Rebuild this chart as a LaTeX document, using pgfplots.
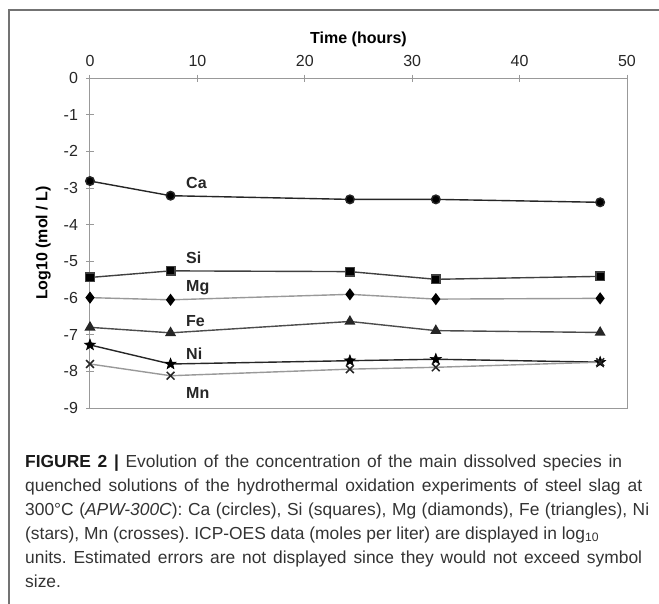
\documentclass[border=0pt]{standalone}
\usepackage{fontspec}
\setmainfont{Liberation Sans}
\usepackage{pgfplots}
\pgfplotsset{compat=1.18}
\pgfdeclareplotmark{fstar}{%
  \pgfpathmoveto{\pgfpointpolar{90}{\pgfplotmarksize}}%
  \pgfpathlineto{\pgfpointpolar{126}{0.42\pgfplotmarksize}}%
  \pgfpathlineto{\pgfpointpolar{162}{\pgfplotmarksize}}%
  \pgfpathlineto{\pgfpointpolar{198}{0.42\pgfplotmarksize}}%
  \pgfpathlineto{\pgfpointpolar{234}{\pgfplotmarksize}}%
  \pgfpathlineto{\pgfpointpolar{270}{0.42\pgfplotmarksize}}%
  \pgfpathlineto{\pgfpointpolar{306}{\pgfplotmarksize}}%
  \pgfpathlineto{\pgfpointpolar{342}{0.42\pgfplotmarksize}}%
  \pgfpathlineto{\pgfpointpolar{18}{\pgfplotmarksize}}%
  \pgfpathlineto{\pgfpointpolar{54}{0.42\pgfplotmarksize}}%
  \pgfpathclose
  \pgfusepathqfillstroke
}
\begin{document}
\frenchspacing
\begin{tikzpicture}
\useasboundingbox (0pt,0pt) rectangle (659pt,-604pt);
\draw[color=black!55, line width=1.2pt] (9pt,-604pt) -- (9pt,-10pt) -- (659pt,-10pt);
\begin{axis}[
  at={(90pt,-408pt)}, anchor=south west,
  scale only axis, width=537pt, height=330pt,
  xmin=0, xmax=50, ymin=-9, ymax=0,
  xtick={0,10,20,30,40,50}, ytick={-9,-8,-7,-6,-5,-4,-3,-2,-1,0},
  xtick pos=right, xticklabel pos=right, ytick pos=left,
  axis line style={black!40, line width=1pt},
  tick align=center, major tick length=7pt,
  tick style={black!40, line width=1pt},
  /pgf/number format/assume math mode=true,
  tick label style={font=\fontsize{16}{16}\selectfont, text=black!85},
  xticklabel style={yshift=4pt},
  yticklabel style={xshift=-5pt},
  xlabel={Time (hours)}, ylabel={Log10 (mol / L)},
  xlabel shift=2pt, ylabel shift=6pt,
  label style={font=\fontsize{16}{16}\selectfont\bfseries},
  clip=false,
]
\addplot[black!85, line width=1.4pt, mark=*, mark size=4.3pt, mark options={fill=black}] coordinates {(0,-2.81) (7.5,-3.21) (24.2,-3.31) (32.2,-3.31) (47.5,-3.39)};
\addplot[black!75, line width=1.4pt, mark=square*, mark size=4.3pt, mark options={fill=black}] coordinates {(0,-5.44) (7.5,-5.26) (24.2,-5.28) (32.2,-5.49) (47.5,-5.41)};
\addplot[black!40, line width=1.4pt, mark=diamond*, mark size=5pt, mark options={fill=black, draw=black}] coordinates {(0,-5.99) (7.5,-6.05) (24.2,-5.90) (32.2,-6.03) (47.5,-6.01)};
\addplot[black!70, line width=1.4pt, mark=triangle*, mark size=5pt, mark options={fill=black!85, draw=black!85}] coordinates {(0,-6.80) (7.5,-6.95) (24.2,-6.64) (32.2,-6.89) (47.5,-6.94)};
\addplot[black!85, line width=1.4pt, mark=fstar, mark size=5.8pt, mark options={draw=black, fill=black, line width=0.6pt}] coordinates {(0,-7.28) (7.5,-7.80) (24.2,-7.71) (32.2,-7.67) (47.5,-7.75)};
\addplot[black!40, line width=1.4pt, mark=x, mark size=5.5pt, mark options={draw=black!85, line width=1.5pt}] coordinates {(0,-7.80) (7.5,-8.12) (24.2,-7.94) (32.2,-7.89) (47.5,-7.75)};
\begin{scope}[every node/.style={font=\fontsize{16}{16}\selectfont\bfseries, anchor=base west, inner sep=0pt, text=black!85}]
\node at (axis cs:8.94,-3.01) {Ca};
\node at (axis cs:8.94,-5.05) {Si};
\node at (axis cs:8.94,-5.83) {Mg};
\node at (axis cs:8.94,-6.78) {Fe};
\node at (axis cs:8.94,-7.67) {Ni};
\node at (axis cs:8.94,-8.73) {Mn};
\end{scope}
\end{axis}
\begin{scope}[every node/.style={font=\fontsize{17.4}{17.4}\selectfont, anchor=base west, inner sep=0pt, text=black!80}]
\node at (25pt,-467pt) {\makebox[597pt][s]{\textbf{\color{black!90}FIGURE 2 |} Evolution of the concentration of the main dissolved species in}};
\node at (25pt,-491pt) {\makebox[617pt][s]{quenched solutions of the hydrothermal oxidation experiments of steel slag at}};
\node at (25pt,-515pt) {\makebox[624pt][s]{300°C (\textit{APW-300C}): Ca (circles), Si (squares), Mg (diamonds), Fe (triangles), Ni}};
\node at (25pt,-539pt) {(stars), Mn (crosses). ICP-OES data (moles per liter) are displayed in log\textsubscript{10}};
\node at (25pt,-563pt) {\makebox[617pt][s]{units. Estimated errors are not displayed since they would not exceed symbol}};
\node at (25pt,-587pt) {size.};
\end{scope}
\end{tikzpicture}
\end{document}
